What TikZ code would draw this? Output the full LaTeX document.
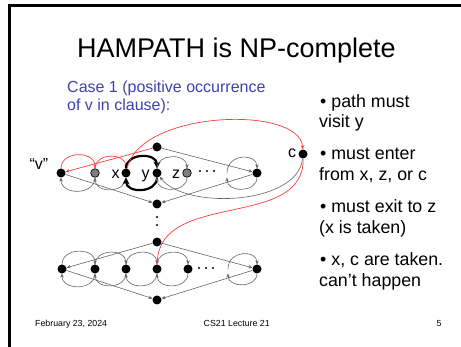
\documentclass[tikz,border=0pt]{standalone}
\usepackage{fontspec}
\setmainfont{Liberation Sans}
\usetikzlibrary{arrows.meta}
\definecolor{slideblue}{RGB}{64,64,176}
\definecolor{edgegray}{RGB}{100,100,100}
\definecolor{pathred}{RGB}{255,60,60}
\begin{document}
\begin{tikzpicture}[x=1pt,y=-1pt,
  vtx/.style={circle,fill=black,inner sep=0pt,minimum size=9pt},
  gvtx/.style={circle,fill=gray,draw=black,line width=0.7pt,inner sep=0pt,minimum size=8.6pt},
  lbl/.style={inner sep=0pt,anchor=base,font=\fontsize{16}{18}\selectfont},
  tip/.style={-{Stealth[length=4pt,width=3.4pt]}},
  link/.style={tip,draw=edgegray,line width=0.6pt},
  plink/.style={tip,draw=pathred,line width=0.7pt},
  boldlink/.style={-{Stealth[length=7pt,width=7pt]},draw=black,line width=2.2pt},
  arcover/.style={out=90,in=90,looseness=1.7,shorten <=4.5pt,shorten >=4.5pt},
  arcunder/.style={out=-90,in=-90,looseness=1.7,shorten <=4.5pt,shorten >=4.5pt},
  fdot/.style={circle,fill=black,inner sep=0pt,minimum size=2.2pt},
  bul/.style={anchor=base west,inner sep=0pt,font=\fontsize{17.8}{20}\selectfont},
  foot/.style={anchor=base,inner sep=0pt,font=\fontsize{8.8}{10}\selectfont},
]
\useasboundingbox (0,0) rectangle (461,347);

% slide frame
\fill (7.5,4.2) rectangle (10.5,347);
\fill (7.5,4.2) rectangle (461,6.8);

% title and captions
\node[anchor=base,inner sep=0pt,font=\fontsize{27}{30}\selectfont] (title) at (236.5,58) {HAMPATH is NP-complete};
\node[anchor=base west,inner sep=0pt,text=slideblue,font=\fontsize{16}{18}\selectfont] (case1) at (67,93) {Case 1 (positive occurrence};
\node[anchor=base west,inner sep=0pt,text=slideblue,font=\fontsize{16}{18}\selectfont] (case2) at (67,110.5) {of v in clause):};

% bullet list
\node[bul] (b1a) at (320,107.5) {• path must};
\node[bul] (b1b) at (319,128) {visit y};
\node[bul] (b2a) at (320,160) {• must enter};
\node[bul] (b2b) at (319,181) {from x, z, or c};
\node[bul] (b3a) at (320,213) {• must exit to z};
\node[bul] (b3b) at (319,234) {(x is taken)};
\node[bul] (b4a) at (320,266) {• x, c are taken.};
\node[bul] (b4b) at (319,287) {can’t happen};

% footer
\node[foot,anchor=base west] (fdate) at (35,326.5) {February 23, 2024};
\node[foot] (fcourse) at (236.7,326.5) {CS21 Lecture 21};
\node[foot] (fpage) at (439,326.5) {5};

% ---- gadget for variable v ----
\node[vtx] (T1) at (157,147) {};
\node[vtx] (v) at (61,173) {};
\node[gvtx] (g1) at (95,173) {};
\node[vtx] (x) at (126,173) {};
\node[vtx] (y) at (157,173) {};
\node[gvtx] (z) at (187,173) {};
\coordinate (ra) at (227,173);
\node[vtx] (R1) at (257,173) {};
\node[vtx] (B1) at (157,204) {};
\node[vtx] (c) at (303,154) {};

\node[lbl] (lv) at (39,170) {“v”};
\node[lbl] (lx) at (115.5,179) {x};
\node[lbl] (ly) at (145.5,179) {y};
\node[lbl] (lz) at (176,179) {z};
\node[lbl] (lc) at (292,158) {c};

\node[fdot] (d1) at (200,171) {};
\node[fdot] (d2) at (207,171) {};
\node[fdot] (d3) at (214,171) {};

% row of loops
\draw[plink,arcover] (v.center) to (g1.center);
\draw[link,arcunder] (g1.center) to (v.center);
\draw[plink,arcover] (g1.center) to (x.center);
\draw[link,arcunder] (x.center) to (g1.center);
\draw[boldlink,arcover] (x.center) to (y.center);
\draw[boldlink,arcunder] (y.center) to (x.center);
\draw[link,arcover] (y.center) to (z.center);
\draw[link,arcunder] (z.center) to (y.center);
\draw[link,arcover,shorten <=0pt] (ra) to (R1.center);
\draw[link,arcunder] (R1.center) to (ra);

% diamond edges
\draw[plink] (T1) -- (v);
\draw[link] (T1) -- (R1);
\draw[link] (v) -- (B1);
\draw[link] (R1) -- (B1);

% clause node edges
\draw[plink] (x) .. controls (140,110) and (300,105) .. (c);
\draw[link] (c) .. controls (298,205) and (185,210) .. (y);

% vertical ellipsis
\node[fdot] (vd1) at (157,217) {};
\node[fdot] (vd2) at (157,225) {};

% ---- next gadget ----
\node[vtx] (T2) at (157,242) {};
\node[vtx] (L2) at (62,269) {};
\node[vtx] (n2) at (95,269) {};
\node[vtx] (n3) at (126,269) {};
\node[vtx] (n4) at (157,269) {};
\node[vtx] (n5) at (188,269) {};
\coordinate (ra2) at (228,269);
\node[vtx] (R2) at (257,269) {};
\node[vtx] (B2) at (157,300) {};

\node[fdot] (e1) at (199,268) {};
\node[fdot] (e2) at (206,268) {};
\node[fdot] (e3) at (213,268) {};

\draw[link,arcover] (L2.center) to (n2.center);
\draw[link,arcunder] (n2.center) to (L2.center);
\draw[link,arcover] (n2.center) to (n3.center);
\draw[link,arcunder] (n3.center) to (n2.center);
\draw[link,arcover] (n3.center) to (n4.center);
\draw[link,arcunder] (n4.center) to (n3.center);
\draw[link,arcover] (n4.center) to (n5.center);
\draw[link,arcunder] (n5.center) to (n4.center);
\draw[link,arcover,shorten <=0pt] (ra2) to (R2.center);
\draw[link,arcunder] (R2.center) to (ra2);

\draw[link] (T2) -- (L2);
\draw[link] (T2) -- (R2);
\draw[link] (L2) -- (B2);
\draw[link] (R2) -- (B2);

% path leaves the clause node into the next gadget
\draw[plink] (c) .. controls (305,230) and (160,190) .. (n4);
\end{tikzpicture}
\end{document}
